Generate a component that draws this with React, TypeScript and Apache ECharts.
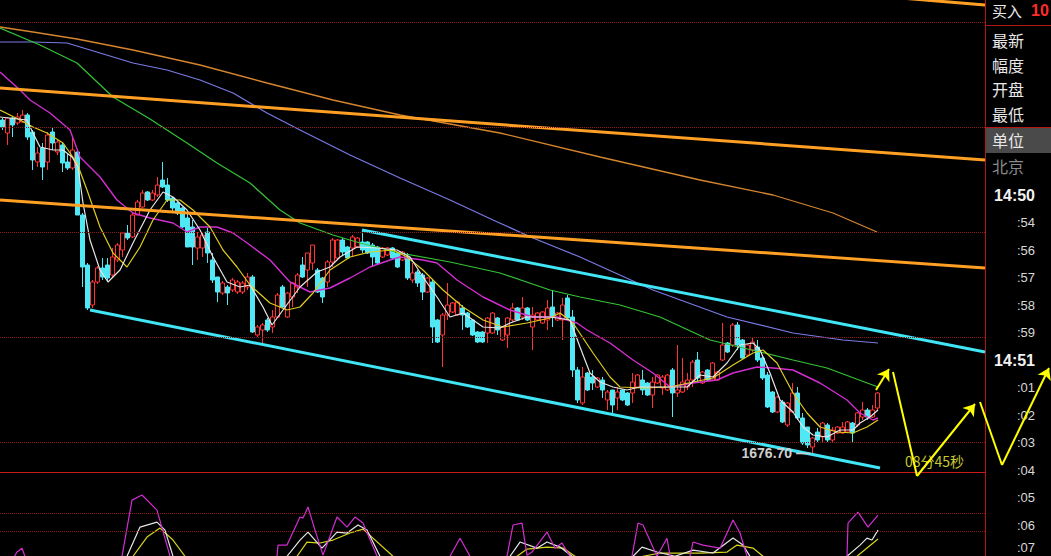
import React, { useEffect, useRef } from "react";
import * as echarts from "echarts";

// ---------- DATA ----------
// one minute candles: [open, close, low, high]
const candles: number[][] = [
  [1743.3,1741.9,1741.3,1743.7],[1740.7,1743.7,1738.3,1743.9],[1743.7,1742.3,1739.9,1743.9],[1742.7,1743.9,1742.3,1744.7],
  [1742.9,1744.3,1742.7,1745.3],[1744.3,1739.9,1739.3,1744.7],[1740.9,1735.3,1733.3,1741.3],[1734.9,1736.7,1733.9,1737.9],
  [1737.7,1733.9,1731.3,1738.7],[1734.9,1740.3,1733.3,1740.9],[1740.9,1738.7,1737.3,1741.9],[1736.9,1738.9,1736.3,1739.3],
  [1738.3,1734.7,1732.9,1738.7],[1734.9,1733.7,1733.3,1736.7],[1733.7,1737.3,1733.3,1739.9],[1736.9,1724.3,1724.3,1737.3],
  [1724.3,1713.9,1709.9,1724.7],[1714.3,1705.7,1705.3,1714.7],[1706.3,1710.9,1705.7,1711.3],[1710.9,1713.7,1710.5,1714.1],
  [1713.7,1711.9,1711.3,1715.7],[1714.3,1711.7,1710.9,1715.7],[1712.3,1715.9,1711.9,1717.7],[1715.3,1718.3,1714.9,1718.7],
  [1717.3,1720.7,1715.9,1720.9],[1720.7,1719.7,1719.3,1722.3],[1719.9,1724.3,1719.7,1724.7],[1724.3,1726.9,1724.3,1727.3],
  [1725.9,1728.7,1725.7,1729.3],[1728.9,1727.3,1727.1,1729.1],[1727.3,1728.7,1727.1,1729.3],[1728.3,1730.3,1727.9,1731.9],
  [1731.3,1729.9,1729.7,1734.9],[1730.3,1727.3,1726.9,1731.7],[1727.7,1725.7,1724.9,1727.9],[1726.7,1724.7,1724.3,1726.9],
  [1725.7,1721.9,1721.7,1725.9],[1723.7,1717.9,1717.9,1724.7],[1721.9,1717.9,1714.3,1723.3],[1717.7,1719.9,1715.3,1720.9],
  [1717.7,1720.3,1715.9,1720.7],[1720.9,1716.7,1714.7,1721.7],[1715.3,1711.3,1710.7,1716.7],[1711.9,1708.9,1706.9,1711.9],
  [1708.7,1710.7,1708.3,1711.1],[1709.9,1708.7,1706.3,1710.3],[1709.3,1711.3,1708.9,1711.7],[1708.9,1710.9,1708.5,1711.3],
  [1708.9,1710.7,1708.5,1711.1],[1709.9,1711.9,1709.3,1712.7],[1711.9,1700.9,1700.7,1712.3],[1700.3,1701.9,1699.9,1702.3],
  [1701.3,1702.3,1698.7,1702.7],[1703.3,1701.3,1700.9,1703.7],[1701.9,1703.9,1700.7,1705.3],[1703.9,1708.3,1703.7,1708.7],
  [1709.9,1705.9,1705.7,1710.3],[1703.9,1708.7,1703.7,1708.9],[1707.9,1710.7,1705.9,1710.9],[1709.9,1712.3,1708.7,1712.7],
  [1714.3,1711.9,1711.7,1715.9],[1713.3,1716.7,1709.9,1716.7],[1714.7,1718.3,1713.3,1718.3],[1713.3,1708.9,1708.7,1713.7],
  [1711.7,1707.9,1706.7,1711.9],[1710.9,1714.9,1709.9,1715.3],[1714.9,1719.3,1713.9,1719.7],[1715.7,1719.3,1715.5,1719.5],
  [1719.3,1716.9,1716.3,1719.7],[1717.9,1715.7,1715.5,1718.1],[1717.7,1719.9,1715.9,1720.3],[1717.9,1719.7,1717.7,1719.9],
  [1718.9,1717.3,1716.7,1721.3],[1718.9,1716.7,1716.5,1719.1],[1718.3,1715.9,1713.9,1718.7],[1717.9,1714.7,1714.5,1718.1],
  [1715.9,1717.7,1715.7,1717.9],[1716.3,1717.7,1716.1,1717.9],[1717.7,1715.7,1715.5,1717.9],[1716.7,1713.9,1713.7,1716.9],
  [1715.3,1716.9,1715.1,1717.1],[1715.9,1711.7,1711.3,1716.7],[1711.3,1712.7,1710.7,1714.7],[1712.9,1710.7,1709.9,1713.3],
  [1712.3,1708.9,1707.3,1712.7],[1708.9,1711.7,1708.7,1711.9],[1710.9,1701.9,1698.7,1711.3],[1703.3,1698.9,1698.7,1703.5],
  [1700.3,1704.3,1693.9,1704.7],[1704.3,1706.3,1703.3,1710.7],[1704.9,1706.7,1704.7,1706.9],[1704.3,1706.9,1704.1,1707.1],
  [1705.7,1704.3,1701.3,1706.3],[1704.7,1701.9,1701.7,1704.9],[1703.3,1700.3,1700.1,1703.5],[1700.9,1698.9,1698.7,1701.1],
  [1700.9,1698.9,1698.7,1701.1],[1700.7,1703.7,1698.7,1703.9],[1700.7,1704.7,1700.5,1704.9],[1703.7,1701.3,1700.3,1703.9],
  [1699.3,1701.9,1699.1,1702.1],[1700.3,1703.7,1697.7,1703.9],[1703.3,1705.7,1702.9,1706.7],[1705.7,1703.3,1703.1,1705.9],
  [1703.9,1705.7,1703.3,1707.9],[1705.7,1703.3,1703.1,1705.9],[1701.9,1704.3,1697.3,1705.9],[1703.3,1704.7,1703.1,1704.9],
  [1702.7,1704.9,1702.5,1705.1],[1703.3,1705.7,1701.3,1707.3],[1705.9,1703.9,1701.9,1709.3],[1703.3,1704.7,1703.1,1704.9],
  [1703.3,1706.3,1699.3,1707.7],[1707.7,1703.7,1703.3,1708.3],[1703.9,1693.3,1691.9,1705.3],[1693.3,1687.3,1686.7,1693.9],
  [1686.7,1691.9,1686.3,1693.9],[1692.7,1689.3,1689.1,1692.9],[1691.9,1690.7,1689.3,1693.3],[1689.9,1691.7,1689.7,1691.9],
  [1691.3,1689.3,1687.7,1691.9],[1687.3,1688.9,1685.3,1689.3],[1689.3,1686.3,1684.3,1689.3],[1687.7,1688.9,1685.3,1689.9],
  [1689.3,1687.3,1687.1,1689.5],[1688.7,1686.3,1686.1,1688.9],[1688.7,1690.9,1686.7,1692.7],[1689.9,1692.3,1689.7,1692.5],
  [1691.3,1689.3,1688.3,1693.3],[1690.7,1688.3,1688.1,1690.9],[1688.3,1690.9,1685.7,1691.9],[1690.7,1692.3,1690.5,1692.5],
  [1689.7,1691.9,1688.3,1692.3],[1689.3,1692.3,1689.1,1692.5],[1693.3,1688.7,1683.9,1693.7],[1688.7,1689.3,1687.9,1698.3],
  [1688.9,1690.9,1688.7,1695.7],[1689.9,1691.3,1689.3,1692.7],[1691.3,1694.9,1689.9,1695.3],[1695.3,1691.7,1690.7,1696.9],
  [1690.7,1692.9,1690.5,1693.1],[1693.3,1691.3,1691.1,1693.5],[1691.3,1694.7,1691.1,1694.9],[1691.3,1692.9,1691.1,1693.1],
  [1695.3,1698.3,1695.1,1702.7],[1698.7,1696.9,1696.7,1698.9],[1698.3,1702.3,1697.9,1702.7],[1702.3,1698.3,1697.3,1702.9],
  [1699.3,1695.7,1695.5,1699.5],[1696.3,1698.3,1696.1,1698.5],[1697.3,1698.9,1696.9,1699.7],[1697.9,1695.3,1694.9,1699.3],
  [1695.7,1691.7,1691.3,1696.3],[1692.3,1685.9,1685.7,1692.9],[1688.9,1684.9,1684.7,1689.1],[1684.9,1687.9,1684.7,1688.1],
  [1686.9,1682.9,1682.7,1687.3],[1682.3,1686.7,1681.9,1686.9],[1684.9,1688.7,1684.7,1690.7],[1688.7,1683.7,1683.3,1689.9],
  [1683.7,1678.7,1678.3,1684.7],[1681.9,1678.3,1677.7,1681.9],[1677.9,1679.7,1676.7,1679.9],[1680.9,1679.3,1678.9,1681.7],
  [1679.9,1682.7,1678.7,1682.9],[1682.3,1679.3,1678.9,1682.7],[1679.3,1681.3,1678.7,1681.9],[1680.7,1681.9,1680.5,1682.1],
  [1680.7,1681.9,1680.5,1682.9],[1680.9,1682.9,1680.7,1683.1],[1682.7,1680.7,1678.7,1682.9],[1682.3,1684.7,1681.9,1684.9],
  [1683.9,1685.3,1683.3,1686.9],[1685.3,1683.9,1683.3,1685.7],[1683.9,1685.3,1683.7,1686.3],[1685.7,1688.7,1685.3,1688.9],
];

const slotCount = 197; // minute slots on the axis (incl. empty future ones)
const slots = Array.from({ length: slotCount }, (_, i) => String(i));

// moving averages: [slot, price]
const ma5: number[][] = [
  [-0.5,1743.9],[4.9,1743.3],[6.1,1740.7],[7.5,1737.9],[10.1,1737.3],[12.1,1737.3],[13.9,1735.9],[15.1,1733.9],
  [16.1,1726.7],[17.5,1719.3],[19.5,1713.3],[21.1,1710.9],[23.5,1713.3],[26.1,1718.7],[29.5,1725.3],[32.1,1728.9],
  [34.1,1727.9],[36.9,1725.3],[39.5,1721.3],[42.1,1715.9],[44.9,1710.9],[47.5,1709.9],[49.5,1710.3],[52.1,1705.9],
  [53.9,1702.3],[56.1,1705.3],[59.5,1709.9],[62.9,1712.9],[65.5,1713.9],[67.5,1715.9],[70.9,1717.9],[74.9,1717.7],
  [78.9,1717.3],[81.5,1715.9],[84.1,1711.9],[86.9,1707.9],[89.5,1703.9],[92.1,1704.7],[96.1,1701.9],[99.5,1701.7],
  [101.5,1702.7],[104.9,1703.9],[109.5,1703.9],[113.5,1703.3],[115.5,1697.9],[117.5,1692.7],[119.5,1690.9],[122.1,1689.9],
  [124.9,1689.3],[127.5,1689.9],[133.5,1689.9],[136.9,1689.9],[139.5,1692.3],[142.1,1691.9],[144.9,1694.7],[147.5,1698.3],
  [150.1,1698.7],[151.5,1697.3],[153.5,1692.7],[155.5,1687.3],[158.1,1684.9],[160.1,1681.9],[162.1,1680.3],[164.9,1679.9],
  [167.5,1681.3],[170.1,1681.3],[171.5,1682.7],[173.5,1683.9],[175.1,1685.3],
];
const ma10: number[][] = [
  [-0.5,1745.3],[3.5,1743.3],[6.1,1741.9],[8.9,1740.7],[12.1,1738.7],[14.9,1734.7],[16.9,1729.3],[19.5,1721.9],
  [22.1,1716.7],[24.9,1713.9],[27.5,1717.9],[30.1,1723.3],[32.9,1727.3],[35.5,1727.3],[38.1,1725.3],[41.5,1721.9],
  [44.1,1717.3],[46.9,1713.9],[49.5,1710.3],[53.5,1706.7],[56.9,1705.3],[59.5,1705.9],[62.1,1708.7],[65.5,1713.3],
  [69.5,1715.9],[73.5,1716.9],[78.1,1717.3],[80.9,1715.9],[84.1,1713.3],[88.1,1709.3],[92.1,1705.9],[96.1,1703.3],
  [100.1,1701.9],[104.9,1702.7],[109.5,1703.7],[111.5,1704.7],[114.1,1702.7],[118.1,1696.7],[121.5,1691.9],[123.5,1689.9],
  [128.1,1689.7],[133.5,1689.9],[138.1,1690.9],[142.1,1691.7],[146.1,1694.3],[150.1,1696.7],[152.1,1697.3],[154.9,1694.7],
  [158.1,1688.7],[160.9,1684.7],[163.5,1681.9],[166.9,1680.9],[170.1,1680.7],[172.9,1681.9],[175.1,1683.3],
];
const ma20: number[][] = [
  [-0.5,1752.9],[3.5,1749.3],[5.5,1747.3],[9.5,1744.7],[13.5,1741.3],[15.5,1735.9],[19.5,1731.9],[22.9,1727.3],
  [26.1,1724.7],[29.5,1723.7],[34.1,1722.7],[36.9,1720.9],[39.5,1721.9],[42.9,1721.9],[46.1,1720.7],[49.5,1718.3],
  [53.5,1715.3],[57.5,1710.9],[61.5,1708.9],[65.5,1709.7],[69.5,1711.7],[73.5,1713.9],[77.5,1715.3],[79.5,1715.9],
  [84.1,1715.3],[86.9,1714.7],[90.9,1711.3],[96.1,1707.9],[101.5,1705.3],[106.1,1703.9],[110.9,1703.9],[114.9,1702.7],
  [116.9,1701.3],[121.5,1698.7],[126.1,1695.3],[130.1,1692.7],[133.5,1689.9],[138.1,1690.7],[142.9,1691.3],[146.1,1692.7],
  [150.9,1693.9],[154.1,1693.7],[158.1,1693.3],[163.5,1690.7],[168.9,1687.3],[171.5,1684.7],[174.1,1683.3],[175.1,1683.7],
];
const ma60: number[][] = [
  [-0.5,1761.7],[7.5,1758.3],[14.9,1754.7],[22.1,1747.9],[29.5,1743.5],[36.9,1738.7],[42.9,1734.7],[49.5,1730.7],
  [55.5,1725.3],[59.5,1722.7],[66.1,1720.3],[71.5,1718.7],[79.5,1716.7],[89.5,1714.9],[99.5,1712.7],[109.5,1709.3],
  [115.5,1707.9],[123.5,1706.3],[131.5,1703.9],[141.5,1699.3],[151.5,1696.9],[158.1,1695.3],[164.9,1693.7],[175.1,1689.9],
];
const ma120: number[][] = [
  [-0.5,1758.9],[6.1,1758.9],[12.9,1758.7],[19.5,1756.7],[26.1,1754.7],[32.9,1753.3],[39.5,1751.3],[46.1,1748.7],
  [52.9,1744.7],[59.5,1741.3],[69.5,1736.3],[79.5,1731.7],[89.5,1727.3],[98.1,1723.3],[106.1,1719.7],[115.5,1715.9],
  [130.1,1709.3],[144.9,1703.9],[158.1,1700.7],[168.1,1699.3],[175.1,1698.7],
];
const ma250: number[][] = [
  [-0.5,1761.9],[6.1,1760.9],[14.9,1759.5],[26.1,1757.3],[39.5,1754.3],[52.9,1750.7],[66.1,1747.3],[79.5,1744.3],
  [89.5,1742.5],[99.5,1740.7],[119.5,1735.9],[139.5,1731.3],[154.1,1728.3],[166.1,1724.7],[174.9,1720.9],
];

// drawn trend lines: [[slot, price], [slot, price]]
const channelLines: number[][][] = [
  [[17.5,1705.3],[175.5,1673.7]],
  [[71.9,1721.3],[196.5,1696.9]],
];
const orangeLines: number[][][] = [
  [[-0.5,1749.7],[196.5,1735.3]],
  [[-0.5,1727.3],[196.5,1713.7]],
  [[170,1768.5],[196.5,1766.3]],
];
const yellowPlain: number[][][] = [
  [[178.1,1692.9],[182.9,1672.1]],
  [[195.5,1686.9],[199.9,1674.3]],
];
const yellowArrows: number[][][] = [
  [[174.7,1689.3],[177.3,1693.5]],
  [[182.9,1672.1],[194.5,1686.5]],
  [[199.9,1674.3],[209.3,1693.7]],
];

const priceGrid = [1762.9, 1741.9, 1720.9, 1699.9, 1678.9];
const lowIndex = 162;
const lowPrice = 1676.7;

// KDJ indicator, [slot, value]
const kdjK: number[][] = [
  [0,35],[23.5,25],[24.9,52],[27.5,84.4],[30.9,90],[32.5,81.1],[34.1,52],[36.1,25],[55.5,31],[56.9,52],[59.5,70],
  [61.1,78.9],[63.9,61],[66.9,78.9],[68.9,77.8],[71.1,86.7],[72.9,81.1],[75.5,52],[77.5,25],[100.5,31],[101.5,52],
  [103.5,67.8],[106.9,61],[108.9,67.8],[111.5,62.2],[113.9,52],[115.9,28],[125.1,31],[126.1,52],[127.9,62.2],[130.9,56.7],
  [134.5,52],[138.1,58.9],[142.1,55.6],[146.1,72.2],[148.1,64.4],[149.5,52],[151.5,28],[167.9,31],[168.9,52],[171.5,64.4],
  [172.9,72.2],[173.9,70],[175.1,81.1],
];
const kdjD: number[][] = [
  [0,40],[25.1,31],[26.1,52],[28.9,73.3],[31.5,83.3],[34.1,70],[36.5,52],[38.5,31],[57.5,31],[58.9,52],[60.9,67.8],
  [63.5,66.7],[66.1,70],[69.5,77.8],[72.1,82.2],[78.1,52],[80.1,31],[101.9,31],[102.9,52],[104.9,60],[108.9,62.2],
  [112.1,61.1],[114.5,52],[116.5,31],[127.1,31],[128.1,52],[131.5,55.6],[139.5,55.6],[144.9,56.7],[146.9,64.4],[150.1,61.1],
  [152.1,52],[154.1,31],[169.5,31],[170.9,52],[172.9,61.1],[175.1,71.1],
];
const kdjJ: number[][] = [
  [0,30],[2.9,56.7],[3.9,61],[4.5,52],[6.5,31],[21.5,25],[23.9,52],[25.9,114.4],[27.9,120],[30.9,103.3],[33.5,52.2],
  [35.5,14.4],[53.5,20],[54.9,52],[55.1,64.4],[56.9,64.4],[59.5,95.6],[60.1,94.4],[61.1,106.7],[62.5,81.1],[64.1,53.3],
  [66.9,95.6],[68.9,84.4],[70.5,95.6],[72.1,88.9],[74.9,52.2],[76.9,14],[88.5,31],[89.5,52],[91.5,72],[93.5,52],[95.5,25],
  [99.5,25],[100.9,52],[102.1,86.7],[103.9,88.9],[104.9,53],[105.9,56.7],[108.9,78.9],[110.5,61],[111.9,66.7],[113.5,52],
  [115.5,25],[124.5,25],[125.9,52],[127.1,88.9],[128.1,86.7],[130.9,52],[132.9,72],[133.5,53],[135.5,42],[137.5,52],
  [138.1,67.8],[140.1,64.4],[143.5,61],[146.1,92.2],[147.5,77.8],[148.9,52],[150.9,14],[167.5,25],[168.9,52],[169.1,88.9],
  [171.1,101.1],[173.1,84.4],[175.1,97.8],
];
const kdjLevels = [100, 80];

// side panel texts
const quoteTop = "买入";
const quoteTopValue = "10";
const quoteFields = ["最新", "幅度", "开盘", "最低"];
const unitLabel = "单位";
const cityLabel = "北京";
const timeLabels = ["14:50", ":54", ":56", ":57", ":58", ":59", "14:51", ":01", ":02", ":03", ":04", ":05", ":06", ":07"];
const countdown = "08分45秒";

// ---------- CHART ----------
const CJK = '"Noto Sans CJK SC", sans-serif';
const NUM = '"Liberation Sans", Arial, sans-serif';

function maSeries(data: number[][], color: string, width: number) {
  return {
    type: "line", xAxisIndex: 1, yAxisIndex: 0, data, showSymbol: false, symbol: "none",
    lineStyle: { color, width }, z: 3, silent: true,
  };
}
function segSeries(segs: number[][][], color: string, width: number, arrow: boolean, clip: boolean, z: number) {
  return {
    type: "lines", coordinateSystem: "cartesian2d", xAxisIndex: 1, yAxisIndex: 0,
    data: segs.map((s) => ({ coords: s })),
    lineStyle: { color, width, opacity: 1, curveness: 0 },
    itemStyle: { color },
    symbol: arrow ? ["none", "arrow"] : ["none", "none"],
    symbolSize: arrow ? 11 : 0,
    clip, z, silent: true,
  };
}
function kdjSeries(data: number[][], color: string, extra: any = {}) {
  return {
    type: "line", xAxisIndex: 2, yAxisIndex: 1, data, showSymbol: false, symbol: "none",
    lineStyle: { color, width: 1.2 }, z: 3, silent: true, clip: true, ...extra,
  };
}

function buildOption() {
  const graphic: any[] = [
    { type: "line", shape: { x1: 985.5, y1: 0, x2: 985.5, y2: 556 }, style: { stroke: "#b41616", lineWidth: 1 } },
    { type: "line", shape: { x1: 0, y1: 472.5, x2: 985, y2: 472.5 }, style: { stroke: "#c81a1a", lineWidth: 1 } },
    { type: "line", shape: { x1: 986, y1: 25.5, x2: 1051, y2: 25.5 }, style: { stroke: "#b41616", lineWidth: 1 } },
    { type: "rect", shape: { x: 986, y: 127, width: 65, height: 26 }, style: { fill: "#4a4a4a" } },
    { type: "line", shape: { x1: 986, y1: 127.5, x2: 1051, y2: 127.5 }, style: { stroke: "#b41616", lineWidth: 1 } },
    { type: "text", x: 992, y: 10, style: { text: quoteTop, fill: "#e8e8e8", fontSize: 15, fontFamily: CJK, verticalAlign: "middle" } },
    { type: "text", x: 1031, y: 10, style: { text: quoteTopValue, fill: "#ff2a2a", fontSize: 16, fontWeight: "bold", fontFamily: NUM, verticalAlign: "middle" } },
    { type: "text", x: 992, y: 140, style: { text: unitLabel, fill: "#e8e8e8", fontSize: 16, fontFamily: CJK, verticalAlign: "middle" } },
    { type: "text", x: 992, y: 166, style: { text: cityLabel, fill: "#8a8a8a", fontSize: 16, fontFamily: CJK, verticalAlign: "middle" } },
    { type: "text", x: 905, y: 461, style: { text: countdown, fill: "#c8c832", fontSize: 14, fontFamily: CJK, verticalAlign: "middle" } },
  ];
  quoteFields.forEach((t, k) => {
    graphic.push({ type: "text", x: 992, y: 40 + k * 24.7, style: { text: t, fill: "#e8e8e8", fontSize: 16, fontFamily: CJK, verticalAlign: "middle" } });
  });
  timeLabels.forEach((t, k) => {
    const major = t.length > 3;
    graphic.push({
      type: "text", x: 1035, y: Math.min(195 + k * 27.5, 547),
      style: {
        text: t, fill: major ? "#f2f2f2" : "#d8d8d8", fontSize: major ? 16 : 13,
        fontWeight: major ? "bold" : "normal", fontFamily: NUM, align: "right", verticalAlign: "middle",
      },
    });
  });

  return {
    animation: false,
    backgroundColor: "#000000",
    grid: [
      { left: 0, top: 0, width: 985, height: 472 },
      { left: 0, top: 472, width: 985, height: 84 },
    ],
    xAxis: [
      { type: "category", gridIndex: 0, data: slots, boundaryGap: true, show: false },
      { type: "value", gridIndex: 0, min: -0.5, max: slotCount - 0.5, show: false },
      { type: "value", gridIndex: 1, min: -0.5, max: slotCount - 0.5, show: false },
    ],
    yAxis: [
      { type: "value", gridIndex: 0, min: 1672.9, max: 1767.3, show: false },
      { type: "value", gridIndex: 1, min: 52.3, max: 145.6, show: false },
    ],
    graphic,
    series: [
      {
        type: "candlestick", xAxisIndex: 0, yAxisIndex: 0, data: candles, barWidth: 4, z: 2, silent: true,
        itemStyle: { color: "#000000", color0: "#4fe8f4", borderColor: "#ff3434", borderColor0: "#4fe8f4", borderWidth: 1 },
        markLine: {
          silent: true, symbol: ["none", "none"], label: { show: false },
          lineStyle: { color: "#8a1a1a", type: "dotted", width: 1 },
          data: priceGrid.map((v) => ({ yAxis: v })),
        },
        markPoint: {
          silent: true, symbol: "rect", symbolSize: 1, itemStyle: { color: "rgba(0,0,0,0)" },
          data: [{ coord: [lowIndex, lowPrice] }],
          label: {
            show: true, position: "left", distance: 2, formatter: lowPrice.toFixed(2) + " —",
            color: "#cfcfcf", fontSize: 14, fontWeight: "bold", fontFamily: NUM,
          },
        },
      },
      maSeries(ma250, "#d4852e", 1.3),
      maSeries(ma120, "#7a7ae6", 1.2),
      maSeries(ma60, "#34c434", 1.2),
      maSeries(ma20, "#d22ed2", 1.4),
      maSeries(ma10, "#e0cc1e", 1.2),
      maSeries(ma5, "#e6e6e6", 1.2),
      segSeries(orangeLines, "#ffa024", 3, false, true, 4),
      segSeries(channelLines, "#40e6f6", 3, false, true, 4),
      segSeries(yellowPlain, "#ffff00", 2, false, false, 6),
      segSeries(yellowArrows, "#ffff00", 2, true, false, 6),
      kdjSeries(kdjD, "#d6d61c"),
      kdjSeries(kdjK, "#e6e6e6", {
        markLine: {
          silent: true, symbol: ["none", "none"], label: { show: false },
          lineStyle: { color: "#8a1a1a", type: "dotted", width: 1 },
          data: kdjLevels.map((v) => ({ yAxis: v })),
        },
      }),
      kdjSeries(kdjJ, "#d22ed2"),
    ],
  };
}

export default function App() {
  const ref = useRef<HTMLDivElement>(null);
  useEffect(() => {
    if (!ref.current) return;
    const chart = echarts.init(ref.current, null, { renderer: "svg" });
    chart.setOption(buildOption() as any);
    return () => chart.dispose();
  }, []);
  return (
    <div
      ref={ref}
      style={{ position: "fixed", left: 0, top: 0, width: 1051, height: 556, background: "#000" }}
    />
  );
}
